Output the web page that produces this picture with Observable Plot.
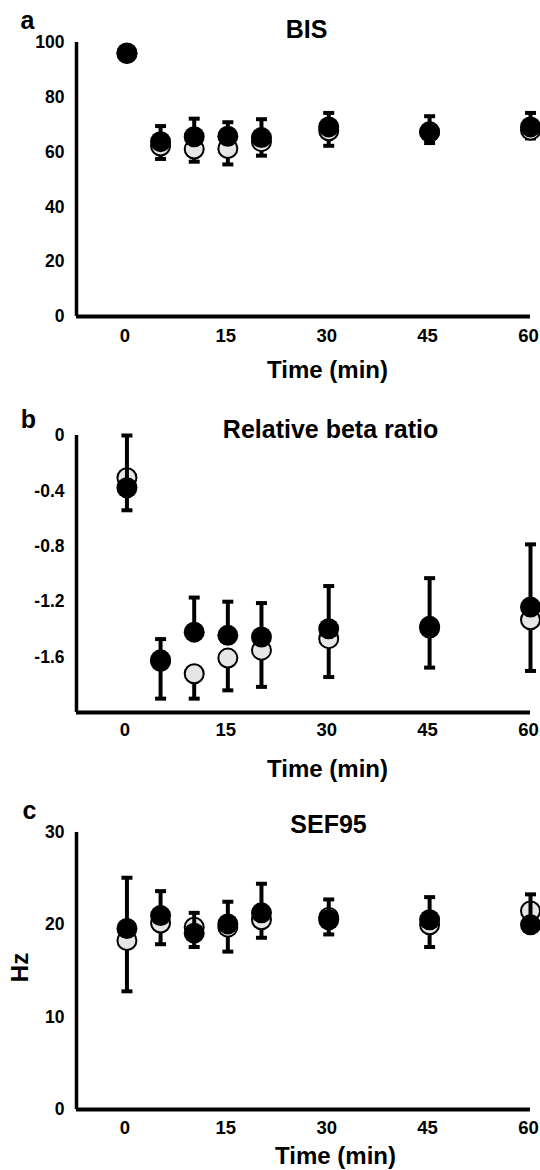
<!DOCTYPE html>
<html>
<head>
<meta charset="utf-8">
<script src="https://cdn.jsdelivr.net/npm/d3@7"></script>
<script src="https://cdn.jsdelivr.net/npm/@observablehq/plot@0.6"></script>
<style>
  html, body { margin: 0; padding: 0; background: #fff; }
  #chart svg { display: block; font-family: "Liberation Sans", Arial, sans-serif; font-weight: bold; }
</style>
</head>
<body>
<div id="chart"></div>
<script>
// ---- data ----
const times = [0, 5, 10, 15, 20, 30, 45, 60];
const xTicks = [0, 15, 30, 45, 60];

// Panel a: BIS
const bisFilledMean = [96.2, 63.8, 65.6, 65.8, 65.3, 69.2, 67.4, 69.2];
const bisFilledHigh = [98.0, 69.5, 72.2, 70.9, 72.0, 74.3, 73.1, 74.3];
const bisOpenMean   = [96.0, 62.2, 61.1, 61.3, 63.8, 67.8, 67.3, 68.0];
const bisOpenLow    = [94.0, 57.5, 56.5, 55.5, 58.7, 62.3, 63.3, 65.0];
const bisTicks = [0, 20, 40, 60, 80, 100];

// Panel b: Relative beta ratio
const betaFilledMean = [-0.377, -1.62, -1.42, -1.443, -1.455, -1.395, -1.378, -1.239];
const betaFilledHigh = [0.0, -1.47, -1.17, -1.20, -1.21, -1.087, -1.03, -0.786];
const betaOpenMean   = [-0.305, -1.63, -1.72, -1.607, -1.55, -1.467, -1.39, -1.33];
const betaOpenLow    = [-0.54, -1.90, -1.90, -1.84, -1.815, -1.744, -1.676, -1.70];
const betaTicks = [0, -0.4, -0.8, -1.2, -1.6];

// Panel c: SEF95
const sefFilledMean = [19.6, 21.0, 19.1, 20.1, 21.3, 20.55, 20.55, 20.0];
const sefFilledHigh = [25.1, 23.65, 21.3, 22.5, 24.45, 22.75, 23.0, 23.3];
const sefOpenMean   = [18.3, 20.2, 19.75, 19.75, 20.55, 20.8, 20.0, 21.5];
const sefOpenLow    = [12.8, 17.9, 17.6, 17.1, 18.6, 18.96, 17.6, 19.6];
const sefTicks = [0, 10, 20, 30];

// ---- helpers ----
const FONT = "Liberation Sans, Arial, sans-serif";
const capSymbol = {
  draw(ctx) {
    ctx.moveTo(-5.5, -2); ctx.lineTo(5.5, -2); ctx.lineTo(5.5, 2); ctx.lineTo(-5.5, 2); ctx.closePath();
  }
};

function rows(mean, bound) {
  return times.map((t, i) => ({t, mean: mean[i], bound: bound[i]}));
}

function place(txt, px, py, m, opts = {}) {
  return Plot.text([txt], {
    frameAnchor: "top-left",
    dx: px - m.left, dy: py - m.top,
    lineAnchor: "bottom", textAnchor: "middle",
    fontWeight: "bold", fill: "black", fontFamily: FONT,
    ...opts
  });
}

function panel(cfg) {
  const m = cfg.margin;
  const filled = rows(cfg.filledMean, cfg.filledHigh);
  const open = rows(cfg.openMean, cfg.openLow);
  const xDomain = [-7.5, 60];
  const marks = [
    // axes lines
    Plot.ruleY([cfg.yDomain[0]], {x1: xDomain[0], x2: xDomain[1], stroke: "black", strokeWidth: 4}),
    Plot.ruleX([xDomain[0]], {y1: cfg.yDomain[0], y2: cfg.yDomain[1], stroke: "black", strokeWidth: 3.5}),
    Plot.axisY({ticks: cfg.yTicks, tickSize: 0, tickPadding: 12, tickFormat: cfg.yFormat,
      fontSize: 17.5, fontWeight: "bold", fill: "black", label: null}),
    Plot.axisX({ticks: xTicks, tickSize: 0, tickPadding: cfg.xPad, dx: -2,
      fontSize: 18.5, fontWeight: "bold", fill: "black", label: null}),
    // open group: bars then dots
    Plot.ruleX(open, {x: "t", y1: "mean", y2: "bound", stroke: "black", strokeWidth: 4}),
    Plot.dot(open, {x: "t", y: "bound", symbol: capSymbol, fill: "black", r: 5}),
    Plot.dot(open, {x: "t", y: "mean", r: 9.5, fill: "#e6e6e6", stroke: "black", strokeWidth: 2}),
    // filled group
    Plot.ruleX(filled, {x: "t", y1: "mean", y2: "bound", stroke: "black", strokeWidth: 4}),
    Plot.dot(filled, {x: "t", y: "bound", symbol: capSymbol, fill: "black", r: 5}),
    Plot.dot(filled, {x: "t", y: "mean", r: 10.5, fill: "black", stroke: "none"}),
    // texts
    place(cfg.letter, cfg.letterPos[0], cfg.letterPos[1], m, {fontSize: 25}),
    place(cfg.title, cfg.titlePos[0], cfg.titlePos[1], m, {fontSize: 25}),
    place("Time (min)", cfg.xLabelPos[0], cfg.xLabelPos[1], m, {fontSize: 24})
  ];
  if (cfg.yLabel) {
    marks.push(place(cfg.yLabel, cfg.yLabelPos[0], cfg.yLabelPos[1], m,
      {fontSize: 24, rotate: -90, lineAnchor: "middle"}));
  }
  return Plot.plot({
    width: 540, height: cfg.height,
    marginTop: m.top, marginBottom: m.bottom, marginLeft: m.left, marginRight: m.right,
    style: {fontFamily: FONT, fontWeight: "bold", color: "black", background: "white", overflow: "visible"},
    x: {domain: xDomain},
    y: {domain: cfg.yDomain},
    marks
  });
}

const chart = document.getElementById("chart");

chart.append(panel({
  height: 392,
  margin: {top: 42, bottom: 76, left: 76, right: 10},
  yDomain: [0, 100], yTicks: bisTicks, yFormat: d => String(d), xPad: 12,
  filledMean: bisFilledMean, filledHigh: bisFilledHigh, openMean: bisOpenMean, openLow: bisOpenLow,
  letter: "a", letterPos: [27, 28], title: "BIS", titlePos: [306, 37], xLabelPos: [327, 377]
}));

chart.append(panel({
  height: 398,
  margin: {top: 43, bottom: 78, left: 76, right: 10},
  yDomain: [-2, 0], yTicks: betaTicks, yFormat: d => d === 0 ? "0" : d.toFixed(1), xPad: 10,
  filledMean: betaFilledMean, filledHigh: betaFilledHigh, openMean: betaOpenMean, openLow: betaOpenLow,
  letter: "b", letterPos: [28, 35], title: "Relative beta ratio", titlePos: [330, 45], xLabelPos: [327, 384]
}));

chart.append(panel({
  height: 380,
  margin: {top: 42, bottom: 61, left: 76, right: 10},
  yDomain: [0, 30], yTicks: sefTicks, yFormat: d => String(d), xPad: 11,
  filledMean: sefFilledMean, filledHigh: sefFilledHigh, openMean: sefOpenMean, openLow: sefOpenLow,
  letter: "c", letterPos: [29, 28], title: "SEF95", titlePos: [328, 42], xLabelPos: [335, 373],
  yLabel: "Hz", yLabelPos: [20, 177]
}));
</script>
</body>
</html>
